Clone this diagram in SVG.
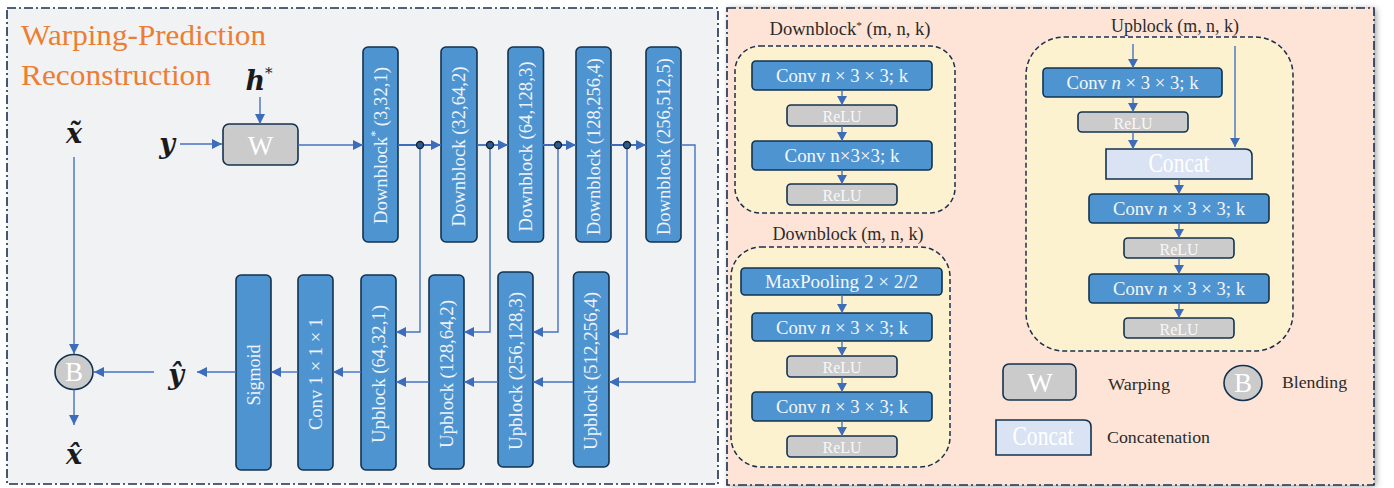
<svg xmlns="http://www.w3.org/2000/svg" width="1394" height="488" viewBox="0 0 1394 488">
<defs>
<marker id="ah" markerUnits="userSpaceOnUse" markerWidth="10" markerHeight="10" refX="10" refY="5" orient="auto">
<path d="M0,0 L10,5 L0,10 z" fill="#3d6cba"/>
</marker>
<marker id="ahs" markerUnits="userSpaceOnUse" markerWidth="10" markerHeight="10" refX="9" refY="5" orient="auto">
<path d="M0,0 L9,5 L0,10 z" fill="#3d6cba"/>
</marker>
<filter id="shadow" x="-5%" y="-5%" width="110%" height="110%">
<feDropShadow dx="2" dy="1" stdDeviation="3" flood-color="#555" flood-opacity="0.6"/>
</filter>
<style>
.panel{stroke:#1c2f4d;stroke-width:1.6;stroke-dasharray:9 3 2 3}
.cont{fill:#fdf2d0;stroke:#1c2f4d;stroke-width:1.5;stroke-dasharray:5 3}
.blk{fill:#4e94d0;stroke:#13324f;stroke-width:1.6}
.relu{fill:#cbcbcb;stroke:#13324f;stroke-width:1.6}
.cc{fill:#dae3f3;stroke:#13324f;stroke-width:1.6}
.vt{font-family:"Liberation Serif","DejaVu Serif",serif;font-size:18.5px;fill:#eef3fa;text-anchor:middle;dominant-baseline:central}
.bt{font-family:"Liberation Serif","DejaVu Serif",serif;font-size:18.5px;fill:#f4f7fb;text-anchor:middle}
.rt{font-family:"Liberation Serif","DejaVu Serif",serif;font-size:17px;fill:#f8f8f8;text-anchor:middle}
.ttl{font-family:"Liberation Serif","DejaVu Serif",serif;font-size:18px;fill:#2b2b2b;text-anchor:middle}
.leg{font-family:"Liberation Serif","DejaVu Serif",serif;font-size:16px;fill:#2b2b2b}
.math{font-family:"DejaVu Serif","Liberation Serif",serif;font-weight:bold;font-style:italic;font-size:27px;fill:#1a1a1a;text-anchor:middle}
.big{font-family:"Liberation Serif","DejaVu Serif",serif;font-size:27px;fill:#ffffff;text-anchor:middle}
.orange{font-family:"Liberation Serif","DejaVu Serif",serif;font-size:29px;fill:#ed7d31}
.ln{fill:none;stroke:#4472c4;stroke-width:1.4}
.lnk{fill:none;stroke:#3d6cba;stroke-width:1.8}
.dot{fill:#2d5b8e;stroke:#0f2238;stroke-width:1.3}
</style>
</defs>

<!-- panels -->
<g id="left-panel">
<rect x="7" y="8" width="711" height="476" fill="#f1f2f4" class="panel"/>
<text class="orange" x="21" y="45" textLength="245" lengthAdjust="spacingAndGlyphs">Warping-Prediction</text>
<text class="orange" x="21" y="85" textLength="190" lengthAdjust="spacingAndGlyphs">Reconstruction</text>
</g>
<g id="right-panel">
<rect x="727" y="8" width="647" height="477" fill="#fde4d6" filter="url(#shadow)"/>
<rect x="727" y="8" width="647" height="477" fill="none" class="panel"/>
</g>

<!-- left nodes -->
<g id="lbl-h"><text class="math" x="259" y="90">h<tspan font-size="15" dy="-12" font-weight="normal">*</tspan></text></g>
<g id="lbl-y"><text class="math" x="167" y="153">y</text></g>
<g id="lbl-xt"><text class="math" x="74" y="143">x&#771;</text></g>
<g id="lbl-yh"><text class="math" x="176" y="384">y&#770;</text></g>
<g id="lbl-xh"><text class="math" x="74" y="464">x&#770;</text></g>

<g id="warp">
<rect x="223" y="124" width="75" height="41" rx="6" class="relu"/>
<text class="big" x="260.5" y="155">W</text>
</g>
<g id="blend">
<ellipse cx="74" cy="372" rx="19" ry="17.5" class="relu"/>
<text class="big" x="74" y="381">B</text>
</g>

<g id="db1"><rect x="363" y="47" width="35" height="195" rx="5" class="blk"/>
<text class="vt" transform="translate(380.5,145.5) rotate(-90)" textLength="157" lengthAdjust="spacingAndGlyphs">Downblock<tspan font-size="12" dy="-6">*</tspan><tspan dy="6"> (3,32,1)</tspan></text></g>
<g id="db2"><rect x="441" y="47" width="36" height="195" rx="5" class="blk"/>
<text class="vt" transform="translate(459,146.5) rotate(-90)" textLength="160" lengthAdjust="spacingAndGlyphs">Downblock (32,64,2)</text></g>
<g id="db3"><rect x="508" y="47" width="35.5" height="195" rx="5" class="blk"/>
<text class="vt" transform="translate(525.5,146.5) rotate(-90)" textLength="170" lengthAdjust="spacingAndGlyphs">Downblock (64,128,3)</text></g>
<g id="db4"><rect x="576" y="47" width="35" height="195" rx="5" class="blk"/>
<text class="vt" transform="translate(593.5,146.5) rotate(-90)" textLength="177" lengthAdjust="spacingAndGlyphs">Downblock (128,256,4)</text></g>
<g id="db5"><rect x="646" y="47" width="35" height="195" rx="5" class="blk"/>
<text class="vt" transform="translate(663.5,146.5) rotate(-90)" textLength="177" lengthAdjust="spacingAndGlyphs">Downblock (256,512,5)</text></g>

<g id="sigmoid"><rect x="236" y="275" width="35" height="195" rx="5" class="blk"/>
<text class="vt" transform="translate(253.5,375) rotate(-90)" textLength="61" lengthAdjust="spacingAndGlyphs">Sigmoid</text></g>
<g id="conv111"><rect x="298" y="275" width="35" height="195" rx="5" class="blk"/>
<text class="vt" transform="translate(315.5,374) rotate(-90)" textLength="112" lengthAdjust="spacingAndGlyphs">Conv 1 × 1 × 1</text></g>
<g id="up1"><rect x="361" y="275" width="35" height="195" rx="5" class="blk"/>
<text class="vt" transform="translate(378.5,374) rotate(-90)" textLength="138" lengthAdjust="spacingAndGlyphs">Upblock (64,32,1)</text></g>
<g id="up2"><rect x="429" y="275" width="35" height="194" rx="5" class="blk"/>
<text class="vt" transform="translate(446.5,374) rotate(-90)" textLength="148" lengthAdjust="spacingAndGlyphs">Upblock (128,64,2)</text></g>
<g id="up3"><rect x="498" y="272" width="35" height="195" rx="5" class="blk"/>
<text class="vt" transform="translate(515.5,371) rotate(-90)" textLength="158" lengthAdjust="spacingAndGlyphs">Upblock (256,128,3)</text></g>
<g id="up4"><rect x="573.5" y="272" width="35.5" height="195" rx="5" class="blk"/>
<text class="vt" transform="translate(591,371) rotate(-90)" textLength="158" lengthAdjust="spacingAndGlyphs">Upblock (512,256,4)</text></g>

<!-- right: Downblock* -->
<g id="downblock-star">
<text class="ttl" x="850" y="35" textLength="161" lengthAdjust="spacingAndGlyphs">Downblock<tspan font-size="11" dy="-6">*</tspan><tspan dy="6"> (m, n, k)</tspan></text>
<rect x="735" y="46" width="220" height="167" rx="25" class="cont"/>
<rect x="752" y="61" width="180" height="29" rx="4" class="blk"/>
<text class="bt" x="842" y="82" textLength="132" lengthAdjust="spacingAndGlyphs">Conv <tspan font-style="italic">n</tspan> × 3 × 3; k</text>
<rect x="787" y="105" width="110" height="21" rx="4" class="relu"/>
<text class="rt" x="842" y="121.5" textLength="39" lengthAdjust="spacingAndGlyphs">ReLU</text>
<rect x="752" y="141" width="180" height="29" rx="4" class="blk"/>
<text class="bt" x="842" y="162" textLength="115" lengthAdjust="spacingAndGlyphs">Conv n×3×3; k</text>
<rect x="787" y="184" width="110" height="21" rx="4" class="relu"/>
<text class="rt" x="842" y="200.5" textLength="39" lengthAdjust="spacingAndGlyphs">ReLU</text>
</g>

<!-- right: Downblock -->
<g id="downblock">
<text class="ttl" x="848" y="240" textLength="151" lengthAdjust="spacingAndGlyphs">Downblock (m, n, k)</text>
<rect x="731" y="247" width="219" height="220" rx="30" class="cont"/>
<rect x="741" y="268" width="201" height="27" rx="4" class="blk"/>
<text class="bt" x="841.5" y="288" textLength="153" lengthAdjust="spacingAndGlyphs">MaxPooling 2 × 2/2</text>
<rect x="752" y="313" width="180" height="28" rx="4" class="blk"/>
<text class="bt" x="842" y="334" textLength="132" lengthAdjust="spacingAndGlyphs">Conv <tspan font-style="italic">n</tspan> × 3 × 3; k</text>
<rect x="787" y="356" width="110" height="21" rx="4" class="relu"/>
<text class="rt" x="842" y="373" textLength="39" lengthAdjust="spacingAndGlyphs">ReLU</text>
<rect x="752" y="392" width="180" height="29" rx="4" class="blk"/>
<text class="bt" x="842" y="413" textLength="132" lengthAdjust="spacingAndGlyphs">Conv <tspan font-style="italic">n</tspan> × 3 × 3; k</text>
<rect x="787" y="436" width="110" height="21" rx="4" class="relu"/>
<text class="rt" x="842" y="453" textLength="39" lengthAdjust="spacingAndGlyphs">ReLU</text>
</g>

<!-- right: Upblock -->
<g id="upblock">
<text class="ttl" x="1175" y="32" textLength="128" lengthAdjust="spacingAndGlyphs">Upblock (m, n, k)</text>
<rect x="1026" y="37" width="267" height="314" rx="38" class="cont"/>
<rect x="1043" y="68" width="179" height="29" rx="4" class="blk"/>
<text class="bt" x="1132.5" y="88.5" textLength="132" lengthAdjust="spacingAndGlyphs">Conv <tspan font-style="italic">n</tspan> × 3 × 3; k</text>
<rect x="1078" y="112" width="110" height="20" rx="4" class="relu"/>
<text class="rt" x="1133" y="128.5" textLength="39" lengthAdjust="spacingAndGlyphs">ReLU</text>
<path d="M1106,149 H1245 Q1252,149 1252,156 V179 H1106 Z" class="cc"/>
<text class="big" x="1179" y="172" font-size="22" textLength="61" lengthAdjust="spacingAndGlyphs">Concat</text>
<rect x="1089" y="194" width="180" height="29" rx="4" class="blk"/>
<text class="bt" x="1179" y="215" textLength="132" lengthAdjust="spacingAndGlyphs">Conv <tspan font-style="italic">n</tspan> × 3 × 3; k</text>
<rect x="1124" y="238" width="110" height="20" rx="4" class="relu"/>
<text class="rt" x="1179" y="254.5" textLength="39" lengthAdjust="spacingAndGlyphs">ReLU</text>
<rect x="1089" y="274" width="180" height="29" rx="4" class="blk"/>
<text class="bt" x="1179" y="295" textLength="132" lengthAdjust="spacingAndGlyphs">Conv <tspan font-style="italic">n</tspan> × 3 × 3; k</text>
<rect x="1124" y="318" width="110" height="20" rx="4" class="relu"/>
<text class="rt" x="1179" y="334.5" textLength="39" lengthAdjust="spacingAndGlyphs">ReLU</text>
</g>

<!-- legend -->
<g id="legend-warp">
<rect x="1003" y="364" width="73" height="36" rx="6" class="relu"/>
<text class="big" x="1040" y="392">W</text>
<text class="leg" x="1108" y="390" textLength="62" lengthAdjust="spacingAndGlyphs">Warping</text>
</g>
<g id="legend-blend">
<ellipse cx="1243" cy="383" rx="19" ry="17.5" class="relu"/>
<text class="big" x="1243" y="392">B</text>
<text class="leg" x="1282" y="388" textLength="65" lengthAdjust="spacingAndGlyphs">Blending</text>
</g>
<g id="legend-concat">
<path d="M996,420 H1084 Q1091,420 1091,427 V455 H996 Z" class="cc"/>
<text class="big" x="1043" y="445" font-size="22" textLength="61" lengthAdjust="spacingAndGlyphs">Concat</text>
<text class="leg" x="1107" y="443" textLength="103" lengthAdjust="spacingAndGlyphs">Concatenation</text>
</g>

<!-- connectors -->
<g id="connectors">
<line class="ln" x1="260" y1="97" x2="260" y2="124" marker-end="url(#ah)"/>
<line class="ln" x1="180" y1="144" x2="222" y2="144" marker-end="url(#ah)"/>
<line class="ln" x1="298" y1="145" x2="363" y2="145" marker-end="url(#ah)"/>
<line class="lnk" x1="398" y1="145" x2="441" y2="145" marker-end="url(#ah)"/>
<line class="lnk" x1="477" y1="145" x2="508" y2="145" marker-end="url(#ah)"/>
<line class="lnk" x1="543" y1="145" x2="576" y2="145" marker-end="url(#ah)"/>
<line class="lnk" x1="611" y1="145" x2="646" y2="145" marker-end="url(#ah)"/>
<polyline class="ln" points="681,145 695,145 695,382 609,382" marker-end="url(#ah)"/>
<polyline class="ln" points="420,145 420,332 396,332" marker-end="url(#ah)"/>
<polyline class="ln" points="490,145 490,332 464,332" marker-end="url(#ah)"/>
<polyline class="ln" points="558,145 558,332 533,332" marker-end="url(#ah)"/>
<polyline class="ln" points="627,145 627,334 609,334" marker-end="url(#ah)"/>
<line class="ln" x1="573" y1="382" x2="533" y2="382" marker-end="url(#ah)"/>
<line class="ln" x1="498" y1="382" x2="464" y2="382" marker-end="url(#ah)"/>
<line class="ln" x1="429" y1="382" x2="396" y2="382" marker-end="url(#ah)"/>
<line class="ln" x1="361" y1="372" x2="333" y2="372" marker-end="url(#ah)"/>
<line class="ln" x1="298" y1="372" x2="271" y2="372" marker-end="url(#ah)"/>
<line class="ln" x1="236" y1="372" x2="197" y2="372" marker-end="url(#ah)"/>
<line class="ln" x1="154" y1="372" x2="94" y2="372" marker-end="url(#ah)"/>
<line class="ln" x1="74" y1="157" x2="74" y2="354" marker-end="url(#ah)"/>
<line class="ln" x1="74" y1="390" x2="74" y2="425" marker-end="url(#ah)"/>
<circle class="dot" cx="420" cy="145" r="3.5"/>
<circle class="dot" cx="490" cy="145" r="3.5"/>
<circle class="dot" cx="558" cy="145" r="3.5"/>
<circle class="dot" cx="627" cy="145" r="3.5"/>
<line class="ln" x1="842" y1="90" x2="842" y2="105" marker-end="url(#ahs)"/>
<line class="ln" x1="842" y1="126" x2="842" y2="141" marker-end="url(#ahs)"/>
<line class="ln" x1="842" y1="170" x2="842" y2="184" marker-end="url(#ahs)"/>
<line class="ln" x1="842" y1="295" x2="842" y2="313" marker-end="url(#ahs)"/>
<line class="ln" x1="842" y1="341" x2="842" y2="356" marker-end="url(#ahs)"/>
<line class="ln" x1="842" y1="377" x2="842" y2="392" marker-end="url(#ahs)"/>
<line class="ln" x1="842" y1="421" x2="842" y2="436" marker-end="url(#ahs)"/>
<line class="ln" x1="1133" y1="44" x2="1133" y2="68" marker-end="url(#ahs)"/>
<line class="ln" x1="1133" y1="97" x2="1133" y2="112" marker-end="url(#ahs)"/>
<line class="ln" x1="1133" y1="132" x2="1133" y2="149" marker-end="url(#ahs)"/>
<line class="ln" x1="1235" y1="46" x2="1235" y2="147" marker-end="url(#ahs)"/>
<line class="ln" x1="1179" y1="179" x2="1179" y2="194" marker-end="url(#ahs)"/>
<line class="ln" x1="1179" y1="223" x2="1179" y2="238" marker-end="url(#ahs)"/>
<line class="ln" x1="1179" y1="258" x2="1179" y2="274" marker-end="url(#ahs)"/>
<line class="ln" x1="1179" y1="303" x2="1179" y2="318" marker-end="url(#ahs)"/>
</g>
</svg>
